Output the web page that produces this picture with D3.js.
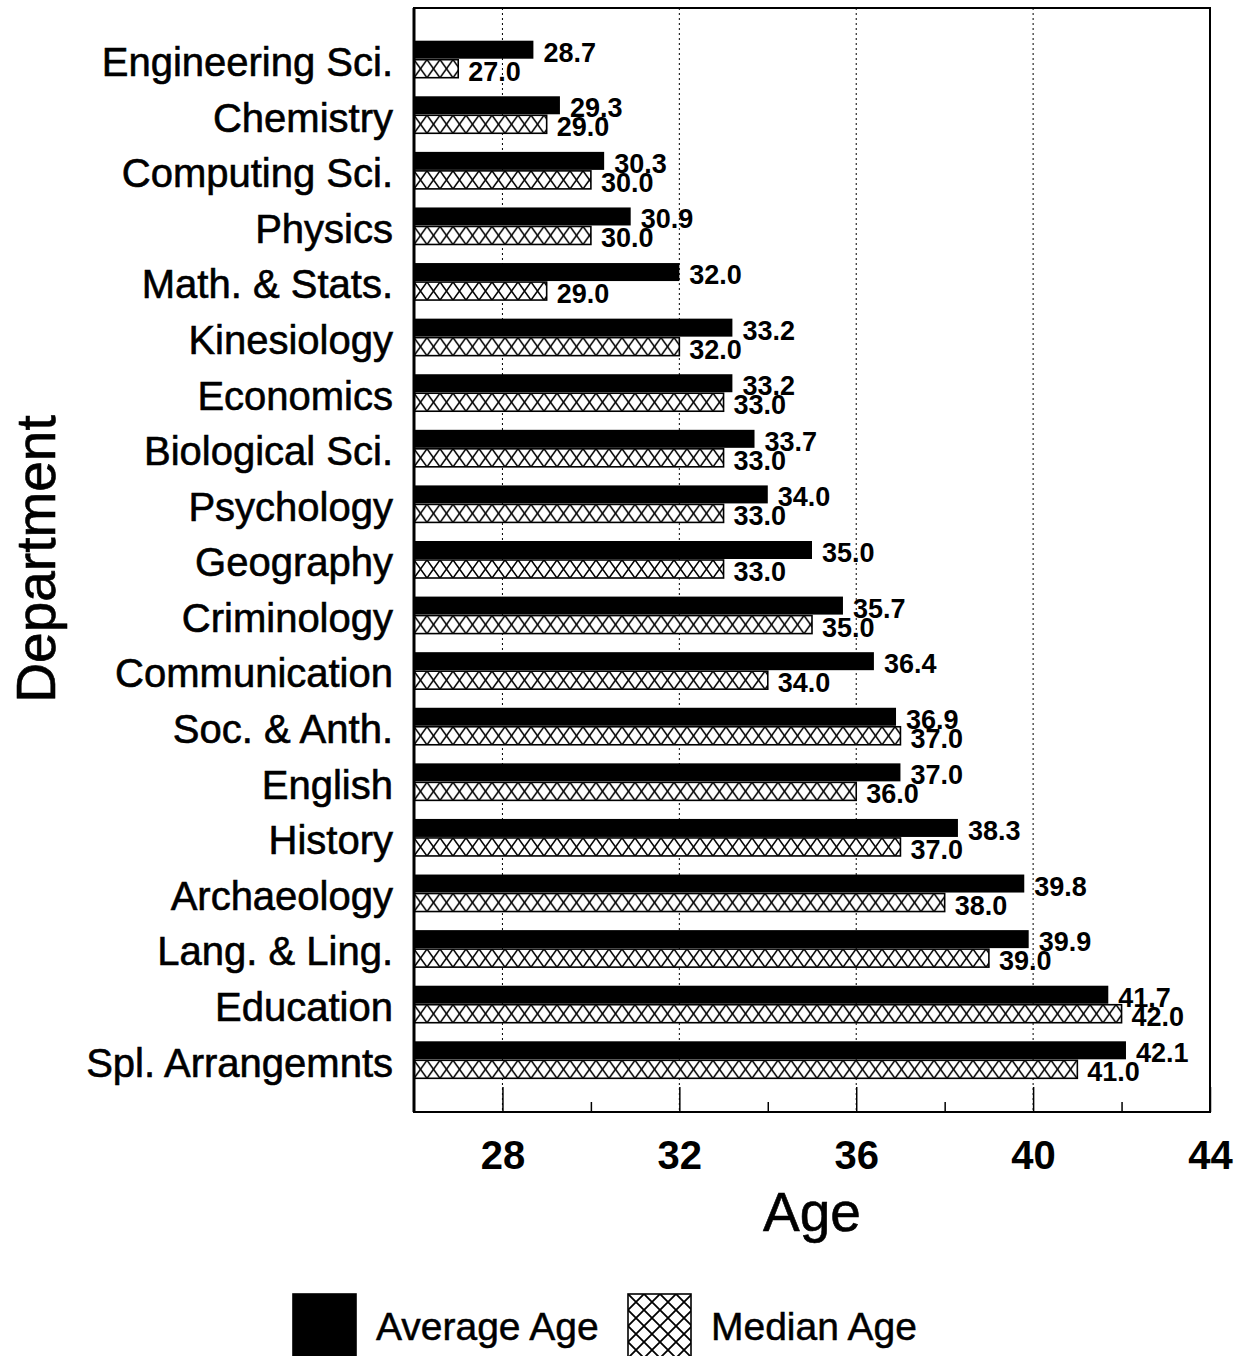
<!DOCTYPE html>
<html>

<head>
    <meta charset="utf-8">
    <script src="https://d3js.org/d3.v7.min.js"></script>
    <style>
        body { margin: 0; background: #fff; }
        text { font-family: "Liberation Sans", Arial, Helvetica, sans-serif; fill: #000; }
    </style>
</head>

<body>
    <script type="text/javascript">
        // data
        const departments = ["Engineering Sci.", "Chemistry", "Computing Sci.", "Physics", "Math. & Stats.",
            "Kinesiology", "Economics", "Biological Sci.", "Psychology", "Geography", "Criminology",
            "Communication", "Soc. & Anth.", "English", "History", "Archaeology", "Lang. & Ling.",
            "Education", "Spl. Arrangemnts"];
        const averageAge = [28.7, 29.3, 30.3, 30.9, 32.0, 33.2, 33.2, 33.7, 34.0, 35.0, 35.7, 36.4, 36.9, 37.0,
            38.3, 39.8, 39.9, 41.7, 42.1];
        const medianAge = [27.0, 29.0, 30.0, 30.0, 29.0, 32.0, 33.0, 33.0, 33.0, 33.0, 35.0, 34.0, 37.0, 36.0,
            37.0, 38.0, 39.0, 42.0, 41.0];
        const majorTicks = [28, 32, 36, 40, 44];
        const minorTicks = [30, 34, 38, 42];
        const seriesNames = ["Average Age", "Median Age"];

        let width = 1243, height = 1356;
        let plot = { left: 414, right: 1210, top: 8, bottom: 1112 };
        let barH = 18;

        let svg = d3.select("body")
            .append("svg")
            .attr("width", width)
            .attr("height", height);

        let defs = svg.append("defs");
        // cross hatch for the bars
        let pat = defs.append("pattern")
            .attr("id", "hatch")
            .attr("patternUnits", "userSpaceOnUse")
            .attr("width", 13).attr("height", barH);
        pat.append("rect").attr("width", 13).attr("height", barH).attr("fill", "#fff");
        pat.append("path").attr("d", `M0,0L13,${barH}M13,0L0,${barH}`)
            .attr("stroke", "#000").attr("stroke-width", 1.6);
        // bigger cells for the legend swatch
        let pat2 = defs.append("pattern")
            .attr("id", "hatchBig")
            .attr("patternUnits", "userSpaceOnUse")
            .attr("width", 16).attr("height", 16);
        pat2.append("rect").attr("width", 16).attr("height", 16).attr("fill", "#fff");
        pat2.append("path").attr("d", "M0,0L16,16M16,0L0,16M-8,8L8,-8M8,24L24,8")
            .attr("stroke", "#000").attr("stroke-width", 1.8);

        let x = d3.scaleLinear().domain([26, 44]).range([plot.left, plot.right]);
        let y = d3.scalePoint().domain(departments).range([plot.top, plot.bottom]).padding(0.93);

        // dotted grid
        svg.append("g").selectAll("line")
            .data(majorTicks.slice(0, -1))
            .join("line")
            .attr("x1", d => x(d)).attr("x2", d => x(d))
            .attr("y1", plot.top).attr("y2", plot.bottom)
            .attr("stroke", "#000").attr("stroke-width", 1)
            .attr("stroke-dasharray", "2,3");

        // bars
        let rows = svg.append("g").selectAll("g")
            .data(departments)
            .join("g")
            .attr("transform", d => `translate(${x(26)},${y(d)})`);

        rows.append("rect")
            .attr("x", 0).attr("y", -barH - 1)
            .attr("width", (d, i) => x(averageAge[i]) - x(26))
            .attr("height", barH)
            .attr("fill", "#000");

        rows.append("rect")
            .attr("x", 0).attr("y", 0)
            .attr("width", (d, i) => x(medianAge[i]) - x(26))
            .attr("height", barH)
            .attr("fill", "url(#hatch)")
            .attr("stroke", "#000").attr("stroke-width", 1.6);

        rows.append("text")
            .attr("x", (d, i) => x(averageAge[i]) - x(26) + 10)
            .attr("y", 2)
            .attr("font-size", 27).attr("font-weight", "bold")
            .text((d, i) => averageAge[i].toFixed(1));

        rows.append("text")
            .attr("x", (d, i) => x(medianAge[i]) - x(26) + 10)
            .attr("y", 21)
            .attr("font-size", 27).attr("font-weight", "bold")
            .text((d, i) => medianAge[i].toFixed(1));

        // x axis, ticks pointing inward
        let xAxis = svg.append("g")
            .attr("transform", `translate(0,${plot.bottom})`)
            .call(d3.axisBottom(x).tickValues(majorTicks).tickSize(-25).tickPadding(29).tickFormat(d3.format("d")));
        xAxis.select(".domain").remove();
        xAxis.selectAll(".tick line").attr("stroke-width", 1.5);
        xAxis.selectAll("text").attr("font-size", 40).attr("font-weight", "bold")
            .attr("font-family", "'Liberation Sans', Arial, sans-serif");

        let xMinor = svg.append("g")
            .attr("transform", `translate(0,${plot.bottom})`)
            .call(d3.axisBottom(x).tickValues(minorTicks).tickSize(-10).tickFormat(""));
        xMinor.select(".domain").remove();
        xMinor.selectAll(".tick line").attr("stroke-width", 1.5);

        // y axis labels
        let yAxis = svg.append("g")
            .attr("transform", `translate(${plot.left},3)`)
            .call(d3.axisLeft(y).tickSize(0).tickPadding(21));
        yAxis.select(".domain").remove();
        yAxis.selectAll("text").attr("font-size", 40)
            .attr("font-family", "'Liberation Sans', Arial, sans-serif")
            .attr("stroke", "#000").attr("stroke-width", 0.6);

        // frame
        svg.append("rect")
            .attr("x", plot.left).attr("y", plot.top)
            .attr("width", plot.right - plot.left).attr("height", plot.bottom - plot.top)
            .attr("fill", "none").attr("stroke", "#000").attr("stroke-width", 2);
        svg.append("line")
            .attr("x1", plot.left).attr("x2", plot.left)
            .attr("y1", plot.top).attr("y2", plot.bottom)
            .attr("stroke", "#000").attr("stroke-width", 3);

        // axis titles
        svg.append("text")
            .attr("x", (plot.left + plot.right) / 2).attr("y", 1231)
            .attr("text-anchor", "middle").attr("font-size", 55)
            .attr("stroke", "#000").attr("stroke-width", 0.6)
            .text("Age");
        svg.append("text")
            .attr("transform", `translate(55,559) rotate(-90)`)
            .attr("text-anchor", "middle").attr("font-size", 55)
            .attr("stroke", "#000").attr("stroke-width", 0.6)
            .text("Department");

        // legend
        let legend = svg.append("g").attr("transform", "translate(293,1294)");
        let legendX = [0, 335];
        let items = legend.selectAll("g")
            .data(seriesNames)
            .join("g")
            .attr("transform", (d, i) => `translate(${legendX[i]},0)`);
        items.append("rect")
            .attr("width", 63).attr("height", 64)
            .attr("fill", (d, i) => i === 0 ? "#000" : "url(#hatchBig)")
            .attr("stroke", "#000").attr("stroke-width", 1.6);
        items.append("text")
            .attr("x", 83).attr("y", 46)
            .attr("font-size", 39)
            .attr("stroke", "#000").attr("stroke-width", 0.5)
            .text(d => d);
    </script>
</body>

</html>
